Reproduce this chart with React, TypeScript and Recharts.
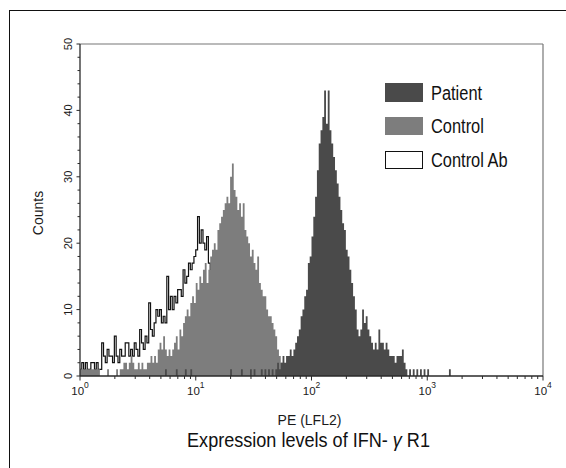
import React from 'react';
import { ComposedChart, Area, XAxis, YAxis, ReferenceLine, Label, Legend } from 'recharts';

// Flow cytometry histogram: 64 channels per decade, 4 decades
const CHANNELS_PER_DECADE = 64;
const TOTAL_CHANNELS = 256;

// Control Ab (isotype) counts, starting at channel 0
const controlAbStart = 0;
const controlAbCounts = [
  1, 2, 1, 2, 1, 1, 2, 2, 1, 2, 1, 1,
  5, 3, 2, 4, 3, 3, 2, 6, 3, 2, 4, 3, 3, 5, 5, 3, 4, 3, 5, 4,
  3, 7, 5, 4, 6, 5, 11, 7, 6, 8, 10, 9, 10, 8, 9, 8,
  15, 10, 12, 10, 12, 11, 13, 13, 12, 16, 14, 15, 17, 16, 17, 18, 19,
  24, 20, 22, 20, 19, 21, 17, 16, 15, 14, 13, 12,
];

// Control counts, starting at channel 0
const controlStart = 0;
const controlCounts = [
  1, 1, 1, 1, 1, 1, 1, 1, 1, 1, 1,
  0, 0, 0, 0, 1, 0, 0, 0, 0, 1, 0, 1,
  1, 2, 2, 1, 2, 3, 2, 1,
  1, 2, 1, 2, 1, 1, 2,
  2, 3, 2, 3, 2, 4,
  5, 4, 6, 4, 3, 4, 3, 4, 5, 6,
  4, 7, 6, 8, 9, 10, 9, 11, 12, 11,
  14, 13, 15, 14, 16, 17, 14, 16, 18, 19,
  20, 19, 22, 23, 24, 25, 26, 27, 26, 30,
  32, 28, 27, 25, 26, 24, 26, 22, 21, 20,
  18, 19, 17, 16, 18, 14, 13, 12, 12, 10,
  9, 9, 8, 7, 6, 4, 3, 2, 2, 1,
  3, 2, 1, 1, 0,
];

// Patient counts, starting at channel 44
const patientStart = 44;
const patientCounts = [
  0, 0, 0, 1, 0, 0, 0, 0, 0, 1, 0, 0, 0, 0, 1, 0, 0, 1, 0, 0,
  0, 0, 0, 0, 0, 0, 0, 0, 0, 0, 0, 0, 0, 0, 0, 0, 0, 0, 0, 1,
  0, 0, 0, 0, 0, 1, 0, 0, 0, 0, 1, 0, 1, 0, 0, 0, 1, 0, 1, 0,
  1, 0, 1, 0,
  1, 2, 1, 2, 3, 2, 3, 3, 4, 3, 4, 5, 6, 7, 9, 10, 12, 13, 17, 18,
  21, 24, 27, 31, 35, 37, 39, 43, 38, 43, 37, 35, 33, 31, 29, 27, 25, 23, 22, 19,
  18, 16, 14, 12, 10, 7, 6, 7, 10, 8, 9, 7, 6, 5, 4, 5, 4, 7, 5, 5,
  4, 5, 4, 3, 3, 3, 2, 3, 3, 3, 4, 2, 1, 0, 1, 0, 1, 0, 1, 0,
  1, 0, 1, 0, 1, 0, 0, 0, 0, 0, 0, 0, 0, 0, 0, 0, 1, 0,
  0, 0, 0, 0, 0, 0, 0, 0, 0, 0, 0, 0, 0, 0, 0, 0, 0, 0, 0, 0,
  0, 0, 0, 0, 0, 0, 0, 0, 0, 0, 0, 0, 0, 0, 0, 0, 0, 0, 0, 0,
  0, 0, 0, 0, 0, 0, 0, 0, 0, 0, 0, 0, 0, 1, 0,
];

// Axis ticks
const yTicks = [0, 2, 4, 6, 8, 10, 12, 14, 16, 18, 20, 22, 24, 26, 28, 30, 32, 34, 36, 38, 40, 42, 44, 46, 48, 50];
const yLabelTicks = [0, 10, 20, 30, 40, 50];
const xDecades = [1, 10, 100, 1000, 10000];
const xDecadeExponents = ['0', '1', '2', '3', '4'];
const xMinorMultipliers = [2, 3, 4, 5, 6, 7, 8, 9];

const xTicks: number[] = [];
xDecades.forEach((d, i) => {
  xTicks.push(d);
  if (i < xDecades.length - 1) xMinorMultipliers.forEach((m) => xTicks.push(d * m));
});

const seriesInfo = [
  { key: 'patient', name: 'Patient', fill: '#4a4a4a', outlined: false },
  { key: 'control', name: 'Control', fill: '#7d7d7d', outlined: false },
  { key: 'controlAb', name: 'Control Ab', fill: '#ffffff', outlined: true },
];

const pick = (arr: number[], start: number, ch: number, empty: number | null) => {
  const i = ch - start;
  return i >= 0 && i < arr.length ? arr[i] : empty;
};

const data = Array.from({ length: TOTAL_CHANNELS + 1 }, (_, ch) => ({
  x: Math.pow(10, ch / CHANNELS_PER_DECADE),
  controlAb: pick(controlAbCounts, controlAbStart, ch, null),
  control: pick(controlCounts, controlStart, ch, 0),
  patient: pick(patientCounts, patientStart, ch, 0),
}));

const TEXT = '#1a1a1a';
const AXIS = '#2a2a2a';

const YTick = (props: any) => {
  const { x, y, payload } = props;
  const v = payload.value;
  const major = yLabelTicks.includes(v);
  return (
    <g>
      <line x1={x - (major ? 3.5 : 2.5)} x2={x} y1={y} y2={y} stroke={AXIS} strokeWidth={1} />
      {major && (
        <text
          x={x - 8}
          y={y}
          transform={`rotate(-90 ${x - 8} ${y})`}
          textAnchor="middle"
          fontSize={11}
          fill={TEXT}
        >
          {v}
        </text>
      )}
    </g>
  );
};

const XTick = (props: any) => {
  const { x, y, payload } = props;
  const v = payload.value;
  const di = xDecades.indexOf(v);
  const major = di >= 0;
  return (
    <g>
      <line x1={x} x2={x} y1={y} y2={y + (major ? 4.5 : 3)} stroke={AXIS} strokeWidth={1} />
      {major && (
        <text x={x} y={y + 19} textAnchor="middle" fontSize={11.5} fill={TEXT}>
          10
          <tspan dy={-7} fontSize={8.5}>
            {xDecadeExponents[di]}
          </tspan>
        </text>
      )}
    </g>
  );
};

const renderYLabel = (props: any) => {
  const vb = props.viewBox || {};
  const cx = vb.x + 3;
  const cy = vb.y + vb.height / 2 + 3;
  return (
    <text x={cx} y={cy} transform={`rotate(-90 ${cx} ${cy})`} textAnchor="middle" fontSize={14} fill={TEXT}>
      Counts
    </text>
  );
};

const renderXLabel = (props: any) => {
  const vb = props.viewBox || {};
  const cx = vb.x + vb.width / 2 - 2;
  const cy = vb.y + 49;
  return (
    <text x={cx} y={cy} textAnchor="middle" fontSize={14} fill={TEXT}>
      PE (LFL2)
    </text>
  );
};

const renderLegend = () => (
  <div style={{ display: 'flex', flexDirection: 'column', gap: 15.2 }}>
    {seriesInfo.map((s) => (
      <div key={s.key} style={{ display: 'flex', alignItems: 'center', height: 18.5 }}>
        <div
          style={{
            width: 38,
            height: 18.5,
            boxSizing: 'border-box',
            background: s.fill,
            border: s.outlined ? '1.2px solid #111' : 'none',
          }}
        />
        <span
          style={{
            marginLeft: 7.5,
            fontSize: 20,
            lineHeight: 1,
            color: '#111',
            whiteSpace: 'nowrap',
            display: 'inline-block',
            transform: 'scaleX(0.82)',
            transformOrigin: 'left center',
          }}
        >
          {s.name}
        </span>
      </div>
    ))}
  </div>
);

export default function App() {
  return (
    <div
      style={{
        position: 'absolute',
        left: 0,
        top: 0,
        width: 566,
        height: 468,
        background: '#ffffff',
        fontFamily: '"Liberation Sans", Arial, Helvetica, sans-serif',
        overflow: 'hidden',
      }}
    >
      <div
        style={{
          position: 'absolute',
          left: 9,
          top: 10,
          width: 600,
          height: 500,
          borderTop: '1.5px solid #111',
          borderLeft: '1.5px solid #111',
        }}
      />
      <ComposedChart
        width={566}
        height={468}
        data={data}
        margin={{ top: 44, right: 23, bottom: 62, left: 40 }}
      >
        <XAxis
          dataKey="x"
          type="number"
          scale="log"
          domain={[1, 10000]}
          allowDataOverflow
          ticks={xTicks}
          interval={0}
          tick={<XTick />}
          tickLine={false}
          tickSize={0}
          tickMargin={0}
          height={30}
          axisLine={{ stroke: AXIS, strokeWidth: 1.3 }}
        >
          <Label content={renderXLabel} />
        </XAxis>
        <YAxis
          type="number"
          domain={[0, 50]}
          ticks={yTicks}
          interval={0}
          tick={<YTick />}
          tickLine={false}
          tickSize={0}
          tickMargin={0}
          width={40}
          axisLine={{ stroke: AXIS, strokeWidth: 1.3 }}
        >
          <Label content={renderYLabel} />
        </YAxis>
        <ReferenceLine y={50} stroke="#777" strokeWidth={1.2} />
        <ReferenceLine x={10000} stroke="#777" strokeWidth={1.2} />
        <Area
          dataKey="controlAb"
          name="Control Ab"
          type="stepAfter"
          fill="none"
          stroke="#111"
          strokeWidth={1.2}
          isAnimationActive={false}
          dot={false}
          activeDot={false}
        />
        <Area
          dataKey="control"
          name="Control"
          type="stepAfter"
          fill="#7d7d7d"
          fillOpacity={1}
          stroke="none"
          isAnimationActive={false}
          dot={false}
          activeDot={false}
        />
        <Area
          dataKey="patient"
          name="Patient"
          type="stepAfter"
          fill="#4a4a4a"
          fillOpacity={1}
          stroke="none"
          isAnimationActive={false}
          dot={false}
          activeDot={false}
        />
        <Legend
          layout="horizontal"
          verticalAlign="middle"
          align="center"
          content={renderLegend}
          wrapperStyle={{ left: 385, top: 83.3, width: 170, height: 90 }}
        />
      </ComposedChart>
      <div
        style={{
          position: 'absolute',
          left: 0,
          top: 429.2,
          width: 617,
          textAlign: 'center',
          fontSize: 21,
          lineHeight: 1,
          color: '#111',
          whiteSpace: 'nowrap',
          transform: 'scaleX(0.86)',
          transformOrigin: '308.5px 50%',
        }}
      >
        Expression levels of IFN- <span style={{ fontStyle: 'italic' }}>γ</span> R1
      </div>
    </div>
  );
}
